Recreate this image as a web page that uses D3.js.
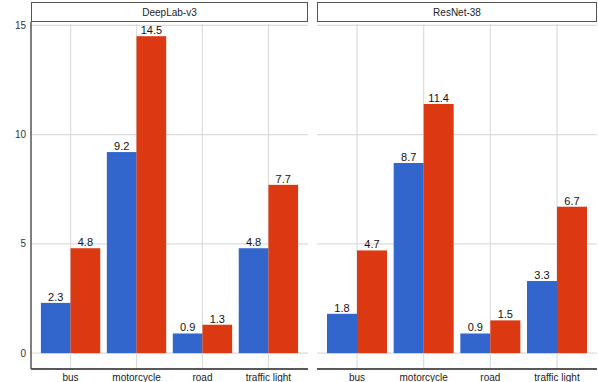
<!DOCTYPE html>
<html>
<head>
<meta charset="utf-8">
<script src="https://cdn.jsdelivr.net/npm/d3@7"></script>
<style>
  body { margin: 0; background: #fff; }
  text { font-family: "Liberation Sans", Arial, sans-serif; }
</style>
</head>
<body>
<svg id="chart" width="598" height="382"></svg>
<script>
const models = ["DeepLab-v3", "ResNet-38"];
const categories = ["bus", "motorcycle", "road", "traffic light"];
const seriesNames = ["a", "b"];
const deeplabA = [2.3, 9.2, 0.9, 4.8];
const deeplabB = [4.8, 14.5, 1.3, 7.7];
const resnetA = [1.8, 8.7, 0.9, 3.3];
const resnetB = [4.7, 11.4, 1.5, 6.7];
const yTicks = [0, 5, 10, 15];
const colors = ["#3366cc", "#dc3912"];

const values = {
  "DeepLab-v3": [deeplabA, deeplabB],
  "ResNet-38": [resnetA, resnetB]
};

const svg = d3.select("#chart");
const plotTop = 22, plotBottom = 369;
const panels = [
  { name: "DeepLab-v3", x0: 31, x1: 308 },
  { name: "ResNet-38", x0: 317, x1: 597 }
];

const y = d3.scaleLinear().domain([-0.725, 15.15]).range([plotBottom, plotTop]);

// y tick labels (left panel only)
svg.append("g").selectAll("text")
  .data(yTicks)
  .join("text")
  .attr("x", 26)
  .attr("y", d => y(d))
  .attr("dy", "0.35em")
  .attr("text-anchor", "end")
  .attr("font-size", 10)
  .attr("fill", "#333")
  .text(d => d);

panels.forEach((p, pi) => {
  const g = svg.append("g");
  const step = (p.x1 - p.x0) / 4.2;
  const x = d3.scalePoint().domain(categories)
    .range([p.x0 + 0.6 * step, p.x1 - 0.6 * step]);
  const bw = step * 0.9 / 2;

  // strip
  g.append("rect")
    .attr("x", p.x0 + 0.5).attr("y", 2.5)
    .attr("width", p.x1 - p.x0 - 1).attr("height", plotTop - 3)
    .attr("fill", "#fff").attr("stroke", "#555").attr("stroke-width", 1);
  g.append("text")
    .attr("x", (p.x0 + p.x1) / 2).attr("y", 12.5)
    .attr("dy", "0.35em").attr("text-anchor", "middle")
    .attr("font-size", 10).attr("fill", "#222")
    .text(p.name);

  // grid
  g.append("g").selectAll("line")
    .data(yTicks).join("line")
    .attr("x1", p.x0).attr("x2", p.x1)
    .attr("y1", d => y(d)).attr("y2", d => y(d))
    .attr("stroke", "#dcdcdc").attr("stroke-width", 1.2);
  g.append("g").selectAll("line")
    .data(categories).join("line")
    .attr("x1", d => x(d)).attr("x2", d => x(d))
    .attr("y1", plotTop + 2).attr("y2", plotBottom)
    .attr("stroke", "#dcdcdc").attr("stroke-width", 1.2);

  // bars
  const rows = [];
  values[p.name].forEach((vals, si) => {
    vals.forEach((v, ci) => rows.push({ cat: categories[ci], s: si, v }));
  });
  g.append("g").selectAll("rect")
    .data(rows).join("rect")
    .attr("x", d => x(d.cat) - bw + d.s * bw)
    .attr("y", d => y(d.v))
    .attr("width", bw)
    .attr("height", d => y(0) - y(d.v))
    .attr("fill", d => colors[d.s]);
  g.append("g").selectAll("text")
    .data(rows).join("text")
    .attr("x", d => x(d.cat) - bw / 2 + d.s * bw)
    .attr("y", d => y(d.v) - 2)
    .attr("text-anchor", "middle")
    .attr("font-size", 11)
    .attr("fill", "#111")
    .text(d => d.v.toFixed(1));

  // x labels
  g.append("g").selectAll("text")
    .data(categories).join("text")
    .attr("x", d => x(d)).attr("y", 381)
    .attr("text-anchor", "middle")
    .attr("font-size", 10).attr("fill", "#222")
    .text(d => d);

  // axis lines
  g.append("line")
    .attr("x1", p.x0).attr("x2", p.x1)
    .attr("y1", plotBottom).attr("y2", plotBottom)
    .attr("stroke", "#222").attr("stroke-width", 1.3);
  if (pi === 0) {
    g.append("line")
      .attr("x1", p.x0).attr("x2", p.x0)
      .attr("y1", plotTop).attr("y2", plotBottom)
      .attr("stroke", "#555").attr("stroke-width", 1.5);
  }
});
</script>
</body>
</html>
